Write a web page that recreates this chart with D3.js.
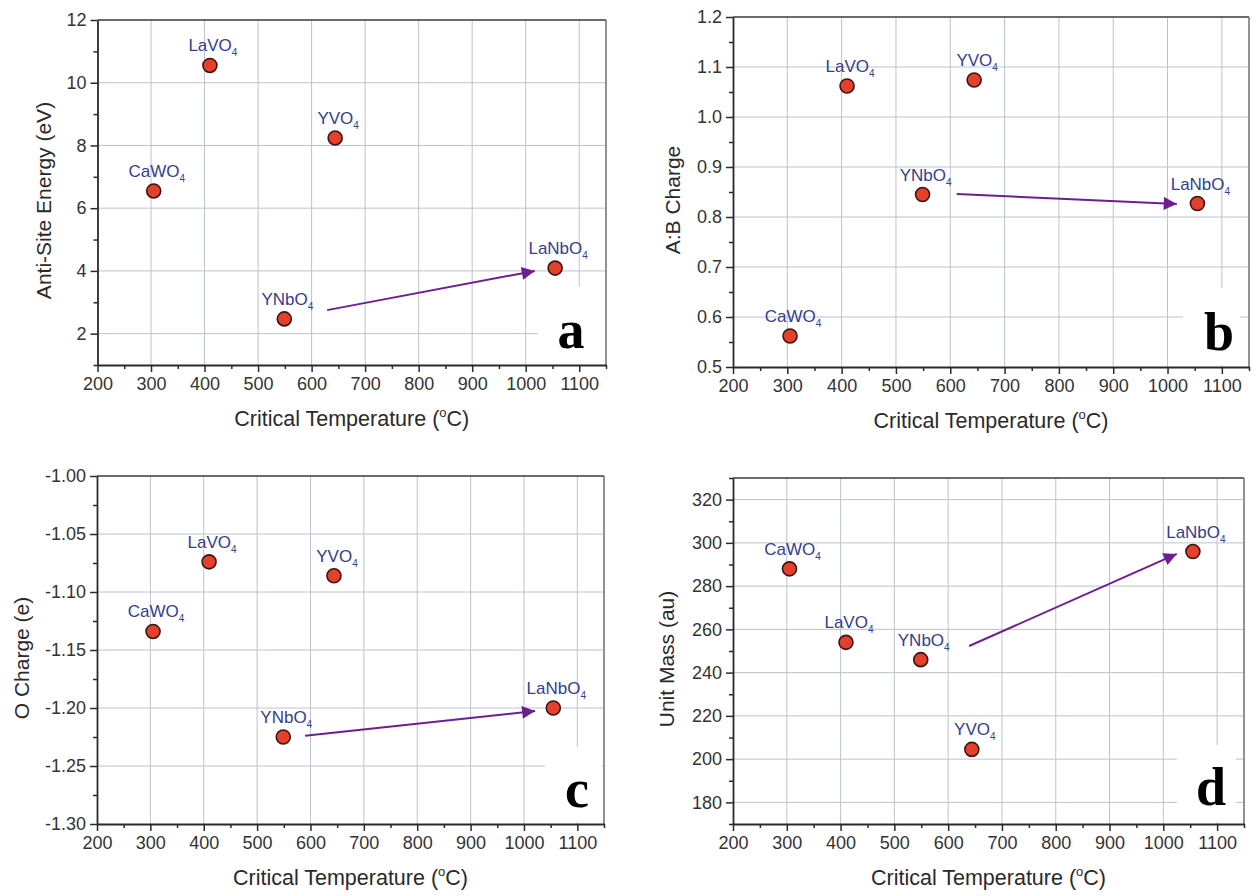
<!DOCTYPE html>
<html><head><meta charset="utf-8">
<script src="https://cdn.jsdelivr.net/npm/d3@7"></script>
<style>body{margin:0;background:#fff}svg{display:block}</style>
</head><body>
<svg id="chart" width="1256" height="896"></svg>
<script>
// ---- data ----
const compounds = ["CaWO4", "LaVO4", "YNbO4", "YVO4", "LaNbO4"];
const criticalTemp = [305, 410, 549, 644, 1055];
const antiSiteEnergy = [6.55, 10.55, 2.47, 8.24, 4.09];
const abCharge = [0.562, 1.062, 0.845, 1.074, 0.827];
const oCharge = [-1.134, -1.074, -1.225, -1.086, -1.200];
const unitMass = [288, 254, 246, 204.5, 296];

const xTicks = [200, 300, 400, 500, 600, 700, 800, 900, 1000, 1100];
const yTicksA = [2, 4, 6, 8, 10, 12];
const yTicksB = [0.5, 0.6, 0.7, 0.8, 0.9, 1.0, 1.1, 1.2];
const yTicksC = [-1.30, -1.25, -1.20, -1.15, -1.10, -1.05, -1.00];
const yTicksD = [180, 200, 220, 240, 260, 280, 300, 320];

// arrows: [x0, y0, x1, y1] in data units (YNbO4 -> LaNbO4)
const arrowA = [629, 2.75, 1017, 4.0];
const arrowB = [612, 0.846, 1017, 0.826];
const arrowC = [590, -1.224, 1021, -1.2026];
const arrowD = [639, 252.3, 1025, 294.9];

const hyph = f => (v => f(v).replace("\u2212", "-"));

const panels = [
  {id:"a", box:[97.5, 606, 20, 365], ydom:[1, 12], yTicks:yTicksA, yMinorStep:1, fmt:hyph(d3.format("d")),
   values:antiSiteEnergy, ytitle:"Anti-Site Energy (eV)", ytx:44, xty:426, arrow:arrowA,
   letter:{rect:[538,287,605,364], x:571, y:348}},
  {id:"b", box:[733, 1249, 17, 367], ydom:[0.5, 1.2], yTicks:yTicksB, yMinorStep:0.05, fmt:hyph(d3.format(".1f")),
   values:abCharge, ytitle:"A:B Charge", ytx:673, xty:428, arrow:arrowB,
   letter:{rect:[1183,288,1240,365], x:1219, y:350}},
  {id:"c", box:[97, 604, 476, 824], ydom:[-1.30, -1.00], yTicks:yTicksC, yMinorStep:0.025, fmt:hyph(d3.format(".2f")),
   values:oCharge, ytitle:"O Charge (e)", ytx:22, xty:885, arrow:arrowC,
   letter:{rect:[545,747,602,822], x:577, y:807}},
  {id:"d", box:[733, 1244, 478, 824], ydom:[170, 330], yTicks:yTicksD, yMinorStep:10, fmt:hyph(d3.format("d")),
   values:unitMass, ytitle:"Unit Mass (au)", ytx:667, xty:885, arrow:arrowD,
   letter:{rect:[1177,745,1236,822], x:1211, y:805}}
];

const svg = d3.select("#chart");
const defs = svg.append("defs");
defs.append("marker").attr("id","ah").attr("viewBox","0 0 10 10").attr("refX",10).attr("refY",5)
  .attr("markerWidth",8).attr("markerHeight",6.5).attr("markerUnits","strokeWidth").attr("orient","auto")
  .append("path").attr("d","M0,0 L10,5 L0,10 z").attr("fill","#6c1f92");

const gridColor = "#bcc2d2";
const axisColor = "#2a2a2a";

panels.forEach(p => {
  const [L, R, T, B] = p.box;
  const x = d3.scaleLinear().domain([200, 1150]).range([L, R]);
  const y = d3.scaleLinear().domain(p.ydom).range([B, T]);
  const g = svg.append("g");

  // grid
  g.append("g").selectAll("line").data(xTicks.filter(v => v > 200)).join("line")
    .attr("x1", d => x(d)).attr("x2", d => x(d)).attr("y1", T).attr("y2", B)
    .attr("stroke", gridColor).attr("stroke-width", 1);
  g.append("g").selectAll("line").data(p.yTicks.filter(v => Math.abs(y(v) - T) > 1 && Math.abs(y(v) - B) > 1)).join("line")
    .attr("x1", L).attr("x2", R).attr("y1", d => y(d)).attr("y2", d => y(d))
    .attr("stroke", gridColor).attr("stroke-width", 1);

  // top and right frame
  g.append("line").attr("x1", L).attr("x2", R).attr("y1", T).attr("y2", T).attr("stroke", "#3a3a3a").attr("stroke-width", 1.5);
  g.append("line").attr("x1", R).attr("x2", R).attr("y1", T).attr("y2", B).attr("stroke", "#6e6e6e").attr("stroke-width", 1.5);

  // minor ticks
  const xMinor = d3.range(250, 1151, 100);
  g.append("g").attr("transform", `translate(0,${B})`)
    .call(d3.axisBottom(x).tickValues(xMinor).tickSize(4).tickFormat(""))
    .call(a => a.select(".domain").remove())
    .selectAll("line").attr("stroke", axisColor).attr("stroke-width", 1.5);
  const n = Math.round((p.ydom[1] - p.ydom[0]) / p.yMinorStep);
  const yMinor = d3.range(0, n + 1).map(i => p.ydom[0] + i * p.yMinorStep)
    .filter(v => !p.yTicks.some(t => Math.abs(t - v) < 1e-6));
  g.append("g").attr("transform", `translate(${L},0)`)
    .call(d3.axisLeft(y).tickValues(yMinor).tickSize(4).tickFormat(""))
    .call(a => a.select(".domain").remove())
    .selectAll("line").attr("stroke", axisColor).attr("stroke-width", 1.5);

  // major axes
  const xa = g.append("g").attr("transform", `translate(0,${B})`)
    .call(d3.axisBottom(x).tickValues(xTicks).tickSize(7).tickSizeOuter(0).tickPadding(5).tickFormat(d3.format("d")));
  const ya = g.append("g").attr("transform", `translate(${L},0)`)
    .call(d3.axisLeft(y).tickValues(p.yTicks).tickSize(7).tickSizeOuter(0).tickPadding(4).tickFormat(p.fmt));
  [xa, ya].forEach(a => {
    a.select(".domain").attr("stroke", axisColor).attr("stroke-width", 1.8);
    a.selectAll(".tick line").attr("stroke", axisColor).attr("stroke-width", 1.5);
    a.selectAll("text").attr("font-family", "Liberation Sans, Arial, sans-serif").attr("font-size", 18).attr("fill", "#333");
  });

  // axis titles
  const xt = g.append("text").attr("x", (L + R) / 2).attr("y", p.xty).attr("text-anchor", "middle")
    .attr("font-family", "Liberation Sans, Arial, sans-serif").attr("font-size", 21.5).attr("fill", "#2a2a2a");
  xt.append("tspan").text("Critical Temperature (");
  xt.append("tspan").attr("font-size", 13).attr("dy", -9).text("o");
  xt.append("tspan").attr("dy", 9).text("C)");

  g.append("text").attr("transform", `translate(${p.ytx},${(T + B) / 2 + 8}) rotate(-90)`)
    .attr("text-anchor", "middle").attr("dy", "0.35em")
    .attr("font-family", "Liberation Sans, Arial, sans-serif").attr("font-size", 21).attr("fill", "#2a2a2a")
    .text(p.ytitle);

  // letter box
  const lr = p.letter.rect;
  g.append("rect").attr("x", lr[0]).attr("y", lr[1]).attr("width", lr[2] - lr[0]).attr("height", lr[3] - lr[1]).attr("fill", "#fff");
  g.append("text").attr("x", p.letter.x).attr("y", p.letter.y).attr("text-anchor", "middle")
    .attr("font-family", "Liberation Serif, Times New Roman, serif").attr("font-weight", "bold")
    .attr("font-size", 54).attr("fill", "#000").text(p.id);

  // arrow
  const ar = p.arrow;
  g.append("line").attr("x1", x(ar[0])).attr("y1", y(ar[1])).attr("x2", x(ar[2])).attr("y2", y(ar[3]))
    .attr("stroke", "#6c1f92").attr("stroke-width", 2).attr("marker-end", "url(#ah)");

  // points
  const pts = compounds.map((c, i) => ({name: c, t: criticalTemp[i], v: p.values[i]}));
  g.append("g").selectAll("circle").data(pts).join("circle")
    .attr("cx", d => x(d.t)).attr("cy", d => y(d.v)).attr("r", 7)
    .attr("fill", "#e5402b").attr("stroke", "#3b1512").attr("stroke-width", 1.6);

  // labels
  const lab = g.append("g").selectAll("text").data(pts).join("text")
    .attr("x", d => x(d.t) + 3).attr("y", d => y(d.v) - 14).attr("text-anchor", "middle")
    .attr("font-family", "Liberation Sans, Arial, sans-serif").attr("font-size", 17).attr("fill", "#34408c");
  lab.append("tspan").text(d => d.name.slice(0, -1));
  lab.append("tspan").attr("font-size", 10).attr("dy", 5).text(d => d.name.slice(-1));
});
</script>
</body></html>
